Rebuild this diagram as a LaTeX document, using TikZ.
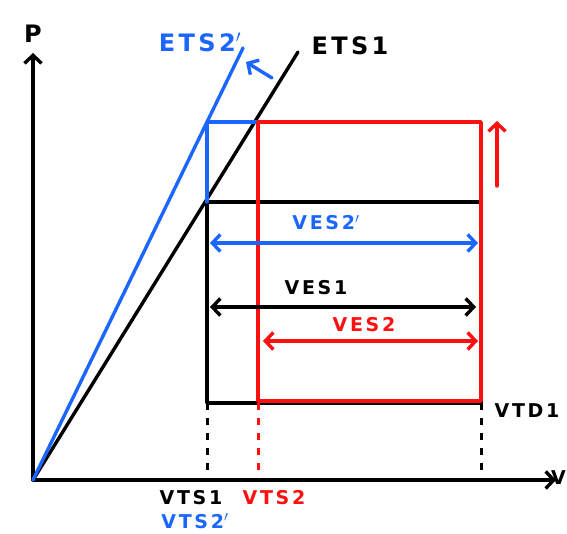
\documentclass[tikz,border=0pt]{standalone}
\usepackage{fontspec}
\setmainfont{DejaVu Sans}[LetterSpace=14]
\usetikzlibrary{arrows.meta}
\definecolor{hblue}{RGB}{26,102,255}
\definecolor{hred}{RGB}{255,16,16}
\begin{document}
\begin{tikzpicture}[x=1pt,y=-1pt, line cap=round, line join=round,
  ln/.style={line width=3.4pt},
  tip/.style={-{Straight Barb[length=8pt,width=17pt]}},
  dtip/.style={{Straight Barb[length=8pt,width=17pt]}-{Straight Barb[length=8pt,width=17pt]}},
  dashline/.style={line width=3pt, dash pattern=on 7pt off 8pt, line cap=butt},
  lbl/.style={font=\fontsize{19}{21}\selectfont\bfseries, inner sep=0pt},
  biglbl/.style={font=\fontsize{24}{26}\selectfont\bfseries, inner sep=0pt}]
\useasboundingbox (0,0) rectangle (567,534);

% axes
\coordinate (O) at (33,480);
\coordinate (ytop) at (33,53);
\coordinate (xend) at (556,480);
\draw[ln,tip] (O) -- (ytop);
\draw[ln,tip] (O) -- (xend);
\node[biglbl] (P) at (33,34) {P};
\node[lbl,anchor=east] (V) at (566,478) {V};

% state lines
\coordinate (E1) at (298,52);
\coordinate (E2) at (243,48);
\draw[ln] (O) -- (E1);
\draw[ln,hblue] (O) -- (E2);
\node[biglbl] (ETS1) at (350,46) {ETS1};
\node[biglbl,text=hblue] (ETS2) at (200,42) {ETS2$'$};
\coordinate (ba1) at (272,78);
\coordinate (ba2) at (246,62);
\draw[ln,hblue,tip] (ba1) -- (ba2);

% black rectangle
\coordinate (A) at (207,202);
\coordinate (C) at (481,403);
\draw[ln] (A) rectangle (C);

% blue corner
\coordinate (Q1) at (258,122);
\coordinate (Q2) at (207,122);
\draw[ln,hblue] (Q1) -- (Q2) -- (A);

% red rectangle
\coordinate (R2) at (481,401);
\draw[ln,hred] (Q1) rectangle (R2);
\coordinate (ru1) at (497,186);
\coordinate (ru2) at (497,121);
\draw[ln,hred,tip] (ru1) -- (ru2);

% double arrows
\coordinate (b1) at (210,243);
\coordinate (b2) at (478,243);
\draw[ln,hblue,dtip] (b1) -- (b2);
\node[lbl,text=hblue] (VES2p) at (326,223) {VES2$'$};
\coordinate (k1) at (210,307);
\coordinate (k2) at (476,307);
\draw[ln,dtip] (k1) -- (k2);
\node[lbl] (VES1) at (316,288) {VES1};
\coordinate (r1) at (263,341);
\coordinate (r2) at (478,341);
\draw[ln,hred,dtip] (r1) -- (r2);
\node[lbl,text=hred] (VES2) at (364,325) {VES2};

% dashed projections
\coordinate (D) at (207,403);
\coordinate (Dx) at (207,478);
\coordinate (Cx) at (481,478);
\coordinate (Rb) at (258,403);
\coordinate (Rx) at (258,474);
\draw[dashline] (D) -- (Dx);
\draw[dashline] (C) -- (Cx);
\draw[dashline,hred] (Rb) -- (Rx);

% axis labels
\node[lbl] (VTD1) at (527,411) {VTD1};
\node[lbl] (VTS1) at (191,498) {VTS1};
\node[lbl,text=hblue] (VTS2p) at (195,521) {VTS2$'$};
\node[lbl,text=hred] (VTS2) at (274,498) {VTS2};
\end{tikzpicture}
\end{document}
